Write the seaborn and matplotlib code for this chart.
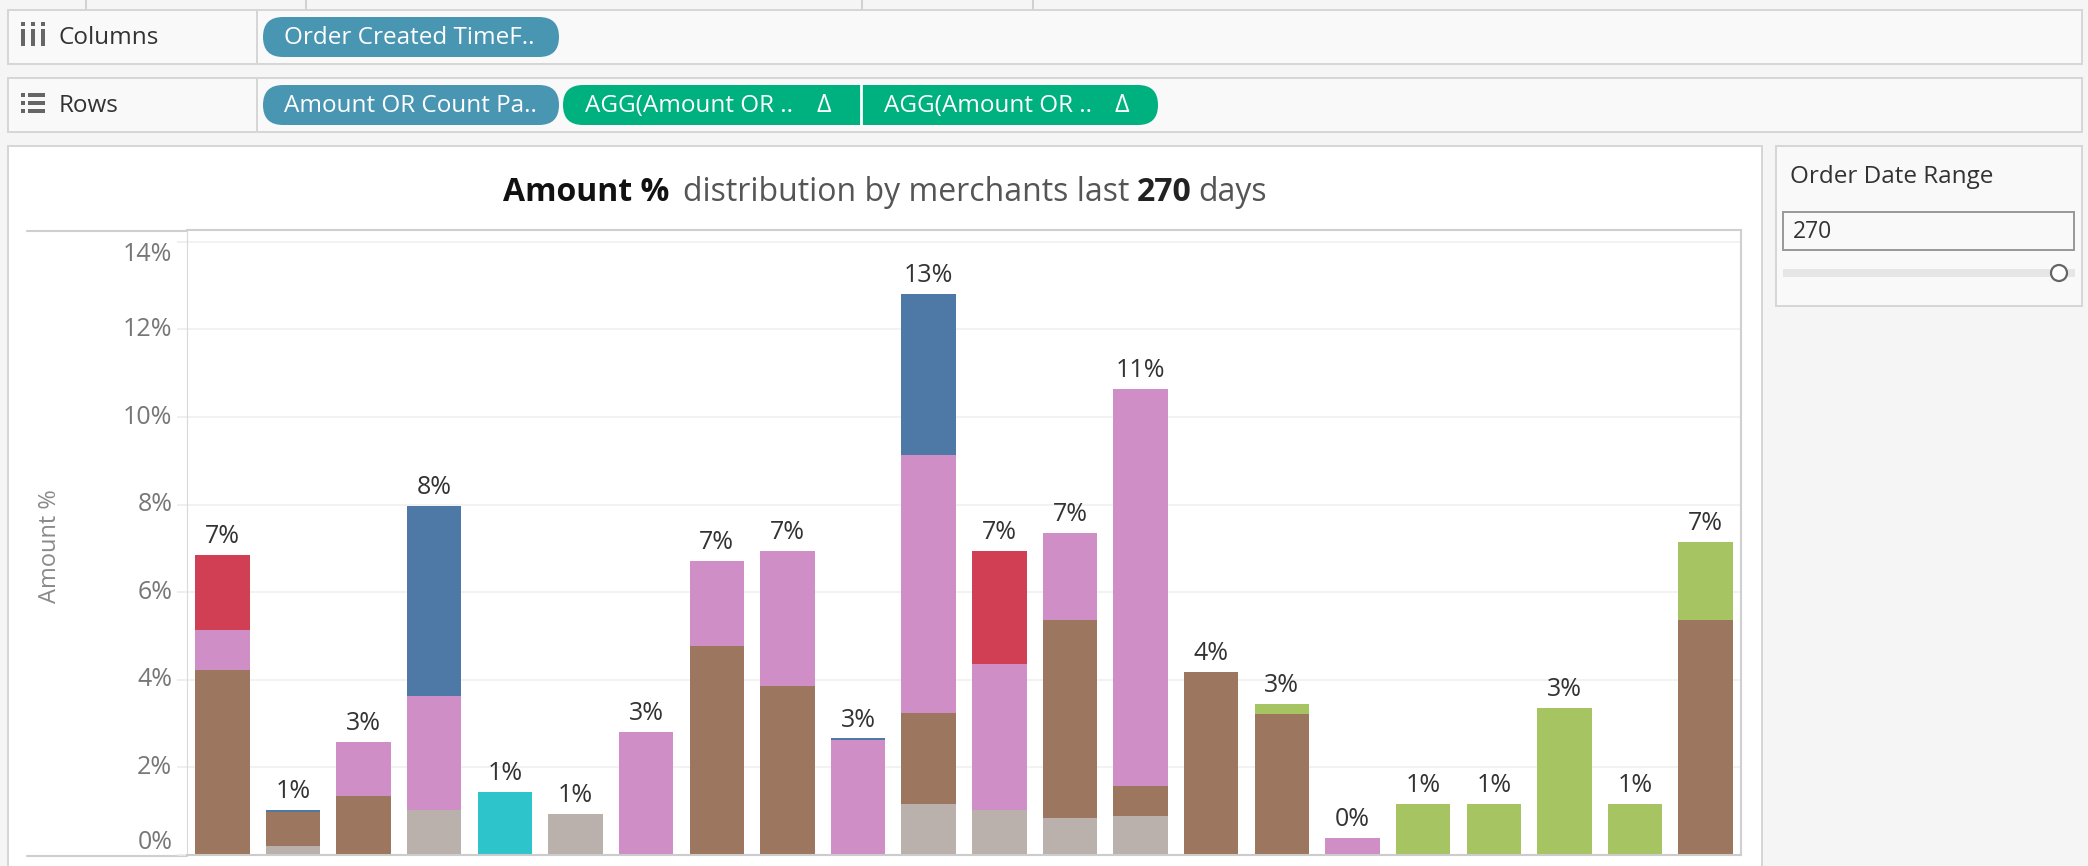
import numpy as np
import pandas as pd
import matplotlib
matplotlib.use("Agg")
import matplotlib.pyplot as plt
from matplotlib.patches import Rectangle, FancyBboxPatch, Circle
import seaborn as sns

# data (Amount % per merchant, stacked by segment)
merchants = ["M%02d" % i for i in range(1, 23)]
seg_gray = [0, 0.21, 0, 1.03, 0, 0.94, 0, 0, 0, 0, 1.16, 1.03, 0.84, 0.89, 0, 0, 0, 0, 0, 0, 0, 0]
seg_brown = [4.22, 0.78, 1.35, 0, 0, 0, 0, 4.77, 3.85, 0, 2.09, 0, 4.52, 0.68, 4.17, 3.21, 0, 0, 0, 0, 0, 5.36]
seg_pink = [0.91, 0, 1.23, 2.60, 0, 0, 2.81, 1.95, 3.10, 2.63, 5.88, 3.32, 1.99, 9.08, 0, 0, 0.39, 0, 0, 0, 0, 0]
seg_blue = [0, 0.04, 0, 4.33, 0, 0, 0, 0, 0, 0.03, 3.67, 0, 0, 0, 0, 0, 0, 0, 0, 0, 0, 0]
seg_red = [1.73, 0, 0, 0, 0, 0, 0, 0, 0, 0, 0, 2.60, 0, 0, 0, 0, 0, 0, 0, 0, 0, 0]
seg_cyan = [0, 0, 0, 0, 1.44, 0, 0, 0, 0, 0, 0, 0, 0, 0, 0, 0, 0, 0, 0, 0, 0, 0]
seg_green = [0, 0, 0, 0, 0, 0, 0, 0, 0, 0, 0, 0, 0, 0, 0, 0.23, 0, 1.16, 1.16, 3.35, 1.16, 1.78]

y_ticks = [0, 2, 4, 6, 8, 10, 12, 14]

layers = [
    (seg_gray, "#BAB0AC"),
    (seg_brown, "#9C765E"),
    (seg_pink, "#CF8EC5"),
    (seg_blue, "#4E79A7"),
    (seg_red, "#D13F54"),
    (seg_cyan, "#2EC4CB"),
    (seg_green, "#A6C562"),
]

sns.set_theme(style="white")
plt.rcParams['font.family'] = ['Open Sans', 'DejaVu Sans']

W, H = 2088, 866
fig = plt.figure(figsize=(W / 100, H / 100), dpi=100, facecolor="#F5F5F5")

# background layer in pixel coordinates for the Tableau chrome
bg = fig.add_axes([0, 0, 1, 1], zorder=0)
bg.set_xlim(0, W)
bg.set_ylim(H, 0)
bg.axis("off")

def box(x0, y0, x1, y1, fc, ec, lw=2):
    bg.add_patch(Rectangle((x0, y0), x1 - x0, y1 - y0, facecolor=fc, edgecolor=ec, linewidth=lw * 0.72))

def pill(x0, y0, x1, y1, color):
    bg.add_patch(FancyBboxPatch((x0, y0), x1 - x0, y1 - y0, boxstyle="round,pad=0,rounding_size=20",
                                facecolor=color, edgecolor="none"))

# top strip ticks
for xx in [86, 306, 862, 1033]:
    bg.plot([xx, xx], [0, 9], color="#D0D0D0", lw=1.4)

# shelves
box(8, 10, 2082, 64, "#F9F9F9", "#D6D6D6")
box(8, 78, 2082, 132, "#F9F9F9", "#D6D6D6")
bg.plot([257, 257], [10, 64], color="#D6D6D6", lw=1.4)
bg.plot([257, 257], [78, 132], color="#D6D6D6", lw=1.4)

# columns icon
for xx in [23, 33, 43]:
    bg.add_patch(Rectangle((xx - 2, 29), 4, 17, facecolor="#666666", edgecolor="none"))
    bg.add_patch(Rectangle((xx - 2, 22), 4, 4, facecolor="#666666", edgecolor="none"))
# rows icon
for yy in [94, 102, 110]:
    bg.add_patch(Rectangle((21, yy - 1.5), 4, 4, facecolor="#666666", edgecolor="none"))
    bg.add_patch(Rectangle((28, yy - 1.5), 17, 4, facecolor="#666666", edgecolor="none"))
bg.text(59, 38, "Columns", fontsize=17.5, color="#333333", va="center")
bg.text(59, 106, "Rows", fontsize=17.5, color="#333333", va="center")

pill(263, 17, 559, 57, "#4996B2")
bg.text(284, 38, "Order Created TimeF..", fontsize=17.5, color="white", va="center")
pill(263, 85, 559, 125, "#4996B2")
bg.text(284, 106, "Amount OR Count Pa..", fontsize=17.5, color="white", va="center")
pill(563, 85, 1158, 125, "#00B180")
bg.plot([861, 861], [85, 125], color="white", lw=2)
bg.text(585, 106, "AGG(Amount OR ..", fontsize=17.5, color="white", va="center")
bg.text(824, 106, "\u0394", fontsize=18, color="white", va="center", ha="center")
bg.text(884, 106, "AGG(Amount OR ..", fontsize=17.5, color="white", va="center")
bg.text(1122, 106, "\u0394", fontsize=18, color="white", va="center", ha="center")

# chart panel and side panel
box(8, 146, 1762, 900, "white", "#D6D6D6")
box(1776, 146, 2082, 306, "#F9F9F9", "#D6D6D6")
bg.text(1790, 177, "Order Date Range", fontsize=17.5, color="#333333", va="center")
box(1783, 212, 2074, 250, "#F9F9F9", "#9A9A9A")
bg.text(1793, 232, "270", fontsize=16.5, color="#333333", va="center")
bg.add_patch(Rectangle((1783, 269), 292, 8, facecolor="#E6E6E6", edgecolor="none"))
bg.add_patch(Circle((2059, 273), 8, facecolor="white", edgecolor="#666666", linewidth=1.6))

# header lines to the left of the plot
bg.plot([27, 187], [231, 231], color="#CFCFCF", lw=1.5)
bg.plot([27, 187], [856, 856], color="#CFCFCF", lw=1.5)
bg.text(50, 546, "Amount %", rotation=90, fontsize=17, color="#8A8A8A", ha="center", va="center")

# main plot
ax = fig.add_axes([187 / W, (H - 855) / H, (1741 - 187) / W, (855 - 230) / H], zorder=2)
ax.set_facecolor("white")

bottom = np.zeros(len(merchants))
for vals, col in layers:
    sns.barplot(x=merchants, y=vals, order=merchants, bottom=bottom.copy(), color=col,
                saturation=1, width=0.77, errorbar=None, linewidth=0, edgecolor="none", ax=ax)
    bottom = bottom + np.array(vals)

totals = bottom
for i, t in enumerate(totals):
    ax.annotate(f"{t:.0f}%", (i, t), xytext=(0, 8.6), textcoords="offset points",
                ha="center", va="baseline", fontsize=18, color="#333333")

ax.set_xlim(-0.5, len(merchants) - 0.5)
ax.set_ylim(0, 14.27)
ax.set_yticks(y_ticks)
ax.set_yticklabels([f"{v}%" for v in y_ticks])
ax.set_xticks([])
ax.set_xlabel("")
ax.set_ylabel("")
ax.grid(axis="y", color="#EFEFEF", linewidth=1.1)
ax.set_axisbelow(True)
ax.tick_params(axis="y", left=True, length=7, width=1.1, color="#EBEBEB", labelcolor="#777777",
               labelsize=18, pad=3.6)
for lab, v in zip(ax.get_yticklabels(), y_ticks):
    if v == 0:
        lab.set_va("bottom")
    elif v == 14:
        lab.set_va("top")
    else:
        lab.set_va("center")
ax.spines["left"].set_color("#D9D9D9")
ax.spines["left"].set_linewidth(0.8)
ax.spines["right"].set_color("#D0D0D0")
ax.spines["right"].set_linewidth(1.5)
ax.spines["bottom"].set_color("#CCCCCC")
ax.spines["bottom"].set_linewidth(1.5)
ax.spines["top"].set_color("#CFCFCF")
ax.spines["top"].set_linewidth(1.5)

# title with mixed weights, centred on the chart panel
renderer = fig.canvas.get_renderer()
parts = [("Amount %", "bold", "#111111"), ("distribution by merchants last", "normal", "#555555"),
         ("270", "bold", "#222222"), ("days", "normal", "#555555")]
gaps = [14, 7, 7]
texts = []
for s, w, c in parts:
    t = bg.text(0, 201, s, fontsize=23, fontweight=w, color=c, va="baseline", ha="left")
    texts.append(t)
widths = [t.get_window_extent(renderer).width for t in texts]
total_w = sum(widths) + sum(gaps)
x = 885 - total_w / 2
for i, t in enumerate(texts):
    t.set_x(x)
    x += widths[i] + (gaps[i] if i < len(gaps) else 0)

fig.savefig("out.png", dpi=100, facecolor=fig.get_facecolor())
